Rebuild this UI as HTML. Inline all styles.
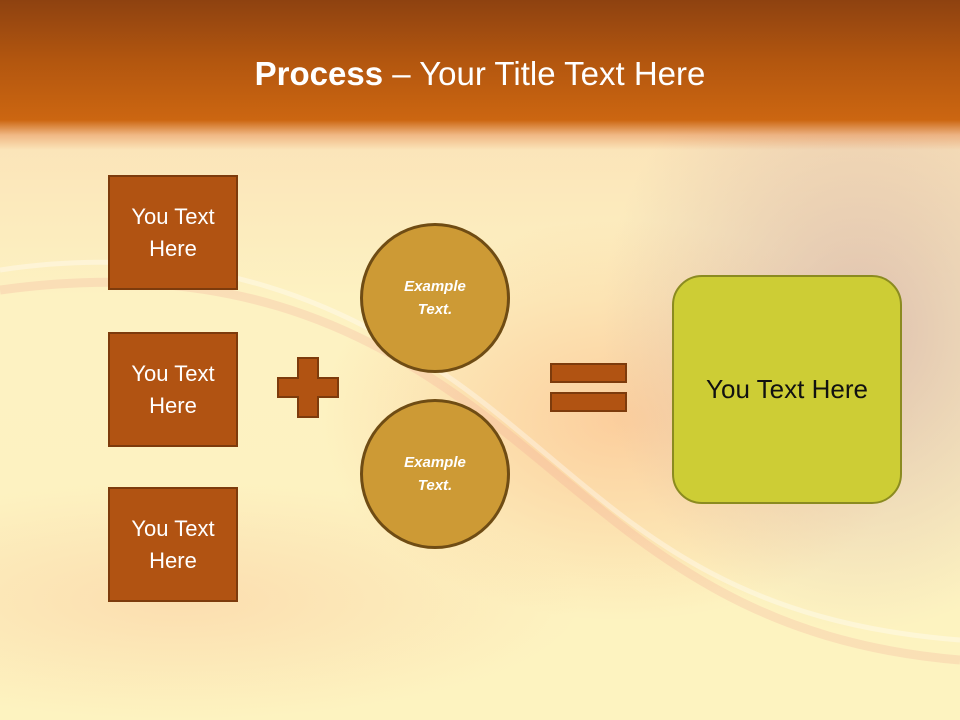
<!DOCTYPE html>
<html><head><style>
body{margin:0;width:960px;height:720px;overflow:hidden;font-family:"Liberation Sans",sans-serif;}
.bg{position:absolute;inset:0;background:
radial-gradient(ellipse 260px 300px at 860px 330px,rgba(215,180,170,0.8),rgba(215,180,170,0) 100%),
radial-gradient(ellipse 300px 200px at 620px 420px,rgba(250,170,120,0.5),rgba(250,170,120,0) 100%),
radial-gradient(ellipse 400px 120px at 180px 600px,rgba(250,190,150,0.4),rgba(250,190,150,0) 100%),
linear-gradient(180deg,#fbe3b8 130px,#fdf2c2 300px,#fdf3c0 720px);}
.hdr{position:absolute;left:0;top:0;width:960px;height:150px;background:linear-gradient(180deg,#8e4210 0,#b2560f 60px,#cc6611 120px,rgba(230,140,80,0.5) 135px,rgba(250,200,160,0) 150px);}
.title{position:absolute;top:55px;width:960px;text-align:center;color:#fff;font-size:33px;}
.box{position:absolute;left:108px;width:126px;height:111px;background:#b15312;border:2px solid #7d3b0c;color:#fff;font-size:22px;line-height:32px;display:flex;align-items:center;justify-content:center;text-align:center;}
.c{position:absolute;width:150px;height:150px;border-radius:50%;background:#cd9a35;border:3px solid #6f4c14;box-sizing:border-box;color:#fff;font-weight:bold;font-style:italic;font-size:15px;line-height:23px;display:flex;align-items:center;justify-content:center;text-align:center;}
.o{position:absolute;background:#b15312;border:2px solid #7d3b0c;box-sizing:border-box;}
</style></head><body>
<div class="bg"></div>
<svg width="960" height="720" style="position:absolute;left:0;top:0">
<path d="M0 270 C200 240 350 300 480 400 S 700 620 960 640" stroke="rgba(255,255,255,0.35)" stroke-width="5" fill="none"/>
<path d="M0 290 C220 260 360 320 490 420 S 720 640 960 660" stroke="rgba(240,150,140,0.2)" stroke-width="9" fill="none"/>
</svg>
<div class="hdr"></div>
<div class="title"><b>Process</b> – Your Title Text Here</div>
<div class="box" style="top:175px">You Text<br>Here</div>
<div class="box" style="top:332px">You Text<br>Here</div>
<div class="box" style="top:487px">You Text<br>Here</div>
<svg width="960" height="720" style="position:absolute;left:0;top:0">
<path d="M298 358 H318 V378 H338 V397 H318 V417 H298 V397 H278 V378 H298 Z" fill="#b15312" stroke="#7d3b0c" stroke-width="2"/>
</svg>
<div class="c" style="left:360px;top:223px">Example<br>Text.</div>
<div class="c" style="left:360px;top:399px">Example<br>Text.</div>
<div class="o" style="left:550px;top:363px;width:77px;height:20px"></div>
<div class="o" style="left:550px;top:392px;width:77px;height:20px"></div>
<div style="position:absolute;left:672px;top:275px;width:230px;height:229px;box-sizing:border-box;border-radius:30px;background:#cdcd35;border:2px solid #8b8b20;display:flex;align-items:center;justify-content:center;font-size:26px;color:#111">You Text Here</div>
</body></html>
